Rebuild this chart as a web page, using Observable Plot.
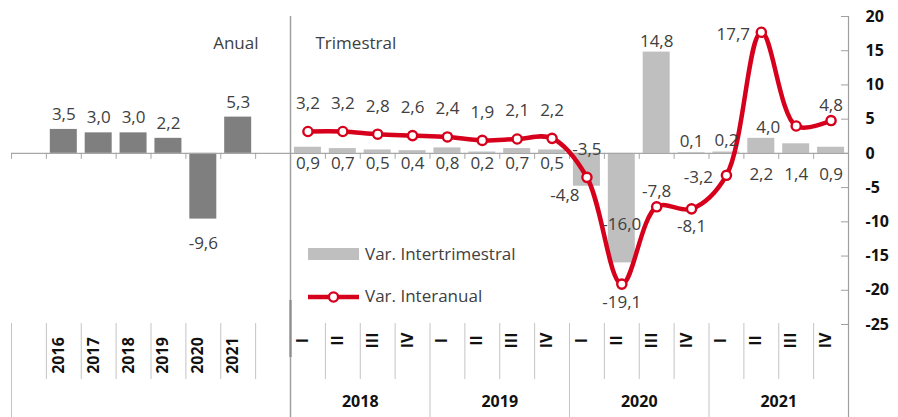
<!DOCTYPE html>
<html>
<head>
<meta charset="utf-8">
<script src="https://cdn.jsdelivr.net/npm/d3@7"></script>
<script src="https://cdn.jsdelivr.net/npm/@observablehq/plot@0.6"></script>
<style>
  html, body { margin: 0; padding: 0; background: #fff; }
  #chart svg { display: block; }
</style>
</head>
<body>
<div id="chart"></div>
<script>
// ---- data ----
const annualYears = ["2016", "2017", "2018", "2019", "2020", "2021"];
const annualValues = [3.5, 3.0, 3.0, 2.2, -9.6, 5.3];

const quarterYears = ["2018", "2019", "2020", "2021"];
const quarterNames = ["I", "II", "III", "IV"];
const interTrimestral = [0.9, 0.7, 0.5, 0.4, 0.8, 0.2, 0.7, 0.5, -4.8, -16.0, 14.8, 0.1, 0.2, 2.2, 1.4, 0.9];
const interAnual = [3.2, 3.2, 2.8, 2.6, 2.4, 1.9, 2.1, 2.2, -3.5, -19.1, -7.8, -8.1, -3.2, 17.7, 4.0, 4.8];

const yTicks = [20, 15, 10, 5, 0, -5, -10, -15, -20, -25];

// label placement keywords (Excel-like positions)
const trimLabelPos = ["base","base","base","base","base","base","base","base","endLeft","inside","end","end","end","baseLow","baseLow","baseLow"];
const anualLabelPos = ["top","top","top","top","top","top","top","top","top","bottom","topNear","bottom","left","left","left","topNear"];

// ---- styles ----
const FONT = "'Open Sans', 'Noto Sans', sans-serif";
const annualColor = "#7f7f7f";
const trimColor = "#bfbfbf";
const red = "#d6001c";
const labelColor = "#404040";
const axisGray = "#a6a6a6";
const sepGray = "#c4c4c4";
const LBL = 17;

const W = 898, H = 417, mL = 11, mR = 50, mT = 16, mB = 93;

// ---- derived table ----
const annualStart = 1;                         // first slot is blank
const quarterStart = annualYears.length + 2;   // blank slot on each side of annual block
const nSlots = quarterStart + quarterYears.length * quarterNames.length;

const annual = annualYears.map((y, k) => ({slot: annualStart + k, year: y, v: annualValues[k]}));
const quarters = [];
quarterYears.forEach((y, a) => quarterNames.forEach((q, b) => {
  const k = a * quarterNames.length + b;
  quarters.push({slot: quarterStart + k, year: y, q, trim: interTrimestral[k], anual: interAnual[k],
                 tpos: trimLabelPos[k], apos: anualLabelPos[k]});
}));
const yearGroups = quarterYears.map((y, a) => ({year: y, mid: quarterStart + a * quarterNames.length + quarterNames.length / 2}));

const fmt = v => v.toFixed(1).replace(".", ",");
const pad = 0.113;
const c = d => d.slot + 0.5;

// separators in the category axis
const shortSeps = [], longSeps = [0];
for (let s = 1; s < quarterStart; s++) shortSeps.push(s);
for (let s = quarterStart + 1; s < nSlots; s++) {
  if ((s - quarterStart) % quarterNames.length === 0) longSeps.push(s); else shortSeps.push(s);
}

const txt = {fontFamily: FONT, fontSize: LBL, fill: labelColor};
const bold = {fontFamily: FONT, fontSize: 16, fontWeight: "bold", fill: "#111"};

const trimGroup = (pos) => quarters.filter(d => d.tpos === pos);
const anGroup = (pos) => quarters.filter(d => d.apos === pos);

const chart = Plot.plot({
  width: W, height: H,
  marginLeft: mL, marginRight: mR, marginTop: mT, marginBottom: mB,
  style: {fontFamily: FONT, overflow: "visible", background: "#fff"},
  x: {type: "linear", domain: [0, nSlots], axis: null},
  y: {domain: [-25, 20], axis: null},
  marks: [
    // bars
    Plot.rect(annual, {x1: d => d.slot + pad, x2: d => d.slot + 1 - pad, y1: 0, y2: "v", fill: annualColor}),
    Plot.rect(quarters, {x1: d => d.slot + pad, x2: d => d.slot + 1 - pad, y1: 0, y2: "trim", fill: trimColor}),
    // zero baseline and its ticks
    Plot.ruleY([0], {stroke: axisGray, strokeWidth: 1.2}),
    Plot.ruleX(d3.range(0, nSlots + 1), {x: d => d, y1: 0, y2: 0, insetBottom: -6, stroke: axisGray}),
    // block separator and right axis
    Plot.ruleX([quarterStart], {insetBottom: -mB, stroke: "#a0a0a0", strokeWidth: 1.5}),
    Plot.ruleX([quarterStart], {insetTop: 284, insetBottom: -33, stroke: "#8c8c8c", strokeWidth: 2.2}),
    Plot.ruleX([nSlots], {insetBottom: -mB, stroke: "#a0a0a0", strokeWidth: 1.2}),
    Plot.ruleY(yTicks, {x1: nSlots, x2: nSlots, insetLeft: -7, stroke: "#a0a0a0"}),
    Plot.text(yTicks, {y: d => d, text: d => String(d), frameAnchor: "right", dx: 17, textAnchor: "start", ...bold}),
    // category axis separators
    Plot.ruleX(shortSeps, {x: d => d, insetTop: 307, insetBottom: -55, stroke: sepGray}),
    Plot.ruleX(longSeps, {x: d => d, insetTop: 307, insetBottom: -mB, stroke: sepGray}),
    // category labels
    Plot.text(annual, {x: c, text: "year", frameAnchor: "bottom", dy: 31, rotate: -90, ...bold}),
    Plot.text(quarters, {x: c, text: "q", frameAnchor: "bottom", dy: 16, rotate: -90, ...bold}),
    Plot.text(yearGroups, {x: "mid", text: "year", frameAnchor: "bottom", dy: 82, ...bold}),
    // block titles
    Plot.text(["Anual"], {x: quarterStart, text: d => d, frameAnchor: "top", dy: 20, dx: -32, textAnchor: "end", ...txt}),
    Plot.text(["Trimestral"], {x: quarterStart, text: d => d, frameAnchor: "top", dy: 20, dx: 25, textAnchor: "start", ...txt}),
    // interanual line
    Plot.line(quarters, {x: c, y: "anual", curve: "catmull-rom", stroke: red, strokeWidth: 4.5}),
    Plot.dot(quarters, {x: c, y: "anual", r: 4.6, fill: "#fff", stroke: red, strokeWidth: 2.4}),
    // annual labels
    Plot.text(annual.filter(d => d.v >= 0), {x: c, y: "v", text: d => fmt(d.v), dy: -15, ...txt}),
    Plot.text(annual.filter(d => d.v < 0), {x: c, y: "v", text: d => fmt(d.v), dy: 24, ...txt}),
    // intertrimestral labels
    Plot.text(trimGroup("base"), {x: c, y: 0, text: d => fmt(d.trim), dy: 10, ...txt}),
    Plot.text(trimGroup("baseLow"), {x: c, y: 0, text: d => fmt(d.trim), dy: 21, ...txt}),
    Plot.text(trimGroup("end"), {x: c, y: "trim", text: d => fmt(d.trim), dy: -11, ...txt}),
    Plot.text(trimGroup("endLeft"), {x: c, y: "trim", text: d => fmt(d.trim), dx: -22, dy: 9, ...txt}),
    Plot.text(trimGroup("inside"), {x: c, y: "trim", text: d => fmt(d.trim), dy: -38, ...txt}),
    // interanual labels
    Plot.text(anGroup("top"), {x: c, y: "anual", text: d => fmt(d.anual), dy: -28, ...txt}),
    Plot.text(anGroup("topNear"), {x: c, y: "anual", text: d => fmt(d.anual), dy: -15, ...txt}),
    Plot.text(anGroup("bottom"), {x: c, y: "anual", text: d => fmt(d.anual), dy: 18, ...txt}),
    Plot.text(anGroup("left"), {x: c, y: "anual", text: d => fmt(d.anual), dx: -28, dy: 2, ...txt})
  ]
});

// ---- legend (inside the plot area) ----
const svg = d3.select(chart);
const lg = svg.append("g").attr("font-family", FONT).attr("font-size", LBL)
  .attr("fill", labelColor).attr("text-anchor", "start");
lg.append("rect").attr("x", 308).attr("y", 248).attr("width", 51).attr("height", 12).attr("fill", trimColor);
lg.append("text").attr("x", 365).attr("y", 254).attr("dy", "0.35em").text("Var. Intertrimestral");
lg.append("line").attr("x1", 308).attr("x2", 359).attr("y1", 297).attr("y2", 297)
  .attr("stroke", red).attr("stroke-width", 4.5);
lg.append("circle").attr("cx", 333.5).attr("cy", 297).attr("r", 4.6)
  .attr("fill", "#fff").attr("stroke", red).attr("stroke-width", 2.4);
lg.append("text").attr("x", 365).attr("y", 296).attr("dy", "0.35em").text("Var. Interanual");

document.getElementById("chart").appendChild(chart);
</script>
</body>
</html>
